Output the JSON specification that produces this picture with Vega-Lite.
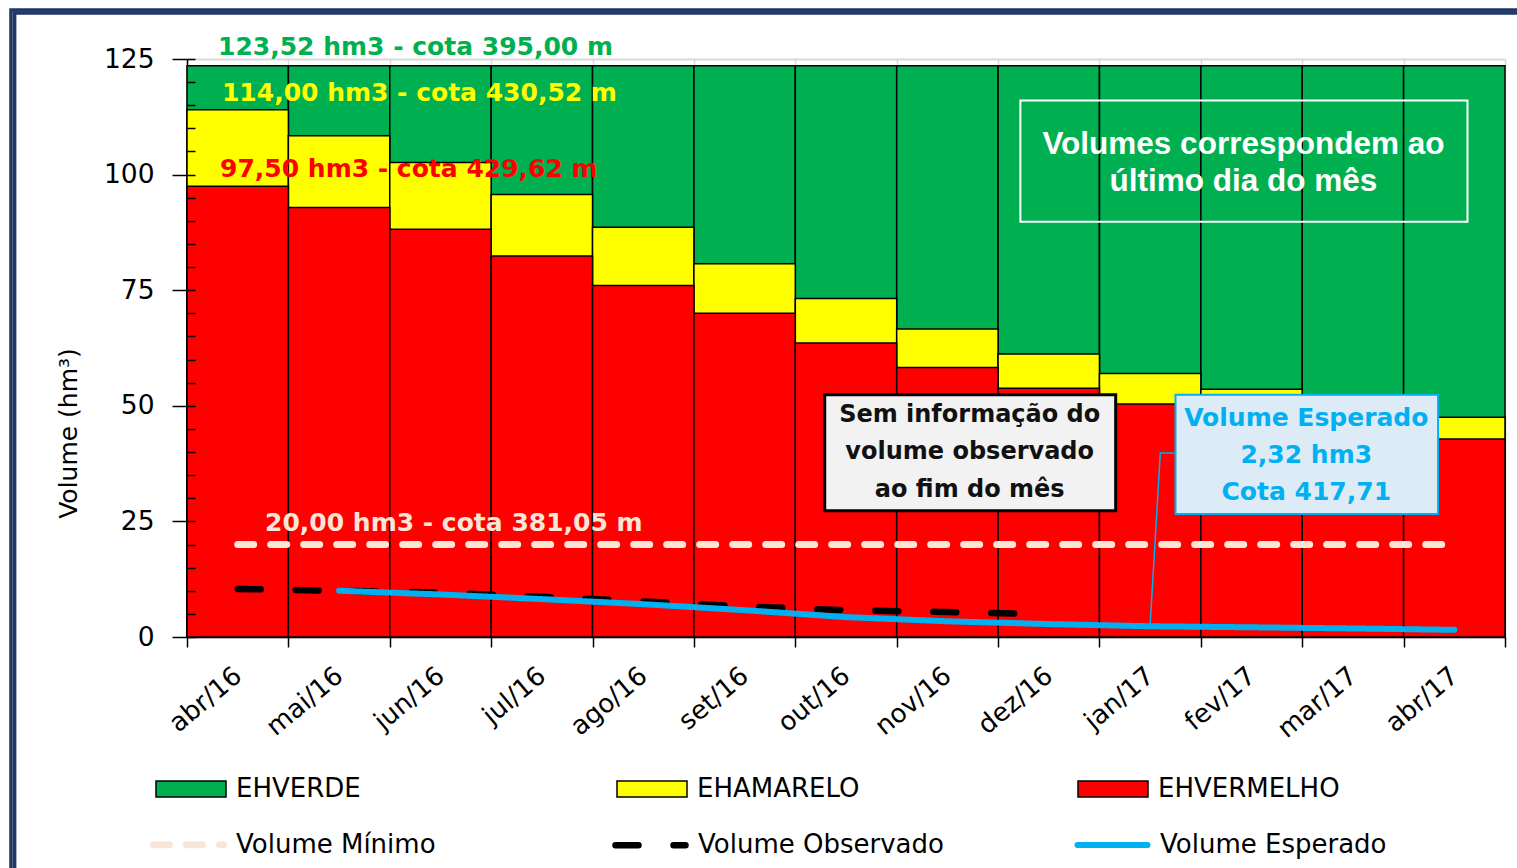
{
  "$schema": "https://vega.github.io/schema/vega-lite/v6.json",
  "width": 1318,
  "height": 578,
  "autosize": {"type": "none"},
  "padding": {"left": 187, "top": 59, "right": 12, "bottom": 231},
  "background": "white",
  "config": {
    "view": {"stroke": null},
    "font": "DejaVu Sans",
    "legend": {"padding": 0, "labelFont": "DejaVu Sans", "labelFontSize": 26, "labelColor": "black", "labelLimit": 500}
  },
  "datasets": {
    "niveis": [
      {"mes": "abr/16", "nivel": "EHVERDE", "volume": 123.52},
      {"mes": "mai/16", "nivel": "EHVERDE", "volume": 123.52},
      {"mes": "jun/16", "nivel": "EHVERDE", "volume": 123.52},
      {"mes": "jul/16", "nivel": "EHVERDE", "volume": 123.52},
      {"mes": "ago/16", "nivel": "EHVERDE", "volume": 123.52},
      {"mes": "set/16", "nivel": "EHVERDE", "volume": 123.52},
      {"mes": "out/16", "nivel": "EHVERDE", "volume": 123.52},
      {"mes": "nov/16", "nivel": "EHVERDE", "volume": 123.52},
      {"mes": "dez/16", "nivel": "EHVERDE", "volume": 123.52},
      {"mes": "jan/17", "nivel": "EHVERDE", "volume": 123.52},
      {"mes": "fev/17", "nivel": "EHVERDE", "volume": 123.52},
      {"mes": "mar/17", "nivel": "EHVERDE", "volume": 123.52},
      {"mes": "abr/17", "nivel": "EHVERDE", "volume": 123.52},
      {"mes": "abr/16", "nivel": "EHAMARELO", "volume": 114.0},
      {"mes": "mai/16", "nivel": "EHAMARELO", "volume": 108.4},
      {"mes": "jun/16", "nivel": "EHAMARELO", "volume": 102.6},
      {"mes": "jul/16", "nivel": "EHAMARELO", "volume": 95.7},
      {"mes": "ago/16", "nivel": "EHAMARELO", "volume": 88.6},
      {"mes": "set/16", "nivel": "EHAMARELO", "volume": 80.7},
      {"mes": "out/16", "nivel": "EHAMARELO", "volume": 73.2},
      {"mes": "nov/16", "nivel": "EHAMARELO", "volume": 66.6},
      {"mes": "dez/16", "nivel": "EHAMARELO", "volume": 61.2},
      {"mes": "jan/17", "nivel": "EHAMARELO", "volume": 57.0},
      {"mes": "fev/17", "nivel": "EHAMARELO", "volume": 53.6},
      {"mes": "mar/17", "nivel": "EHAMARELO", "volume": 50.4},
      {"mes": "abr/17", "nivel": "EHAMARELO", "volume": 47.5},
      {"mes": "abr/16", "nivel": "EHVERMELHO", "volume": 97.5},
      {"mes": "mai/16", "nivel": "EHVERMELHO", "volume": 92.9},
      {"mes": "jun/16", "nivel": "EHVERMELHO", "volume": 88.2},
      {"mes": "jul/16", "nivel": "EHVERMELHO", "volume": 82.4},
      {"mes": "ago/16", "nivel": "EHVERMELHO", "volume": 76.0},
      {"mes": "set/16", "nivel": "EHVERMELHO", "volume": 70.0},
      {"mes": "out/16", "nivel": "EHVERMELHO", "volume": 63.6},
      {"mes": "nov/16", "nivel": "EHVERMELHO", "volume": 58.3},
      {"mes": "dez/16", "nivel": "EHVERMELHO", "volume": 53.8},
      {"mes": "jan/17", "nivel": "EHVERMELHO", "volume": 50.4},
      {"mes": "fev/17", "nivel": "EHVERMELHO", "volume": 47.6},
      {"mes": "mar/17", "nivel": "EHVERMELHO", "volume": 45.1},
      {"mes": "abr/17", "nivel": "EHVERMELHO", "volume": 42.8}
    ],
    "minimo": [
      {"mes": "abr/16", "serie": "Volume Mínimo", "volume": 20},
      {"mes": "mai/16", "serie": "Volume Mínimo", "volume": 20},
      {"mes": "jun/16", "serie": "Volume Mínimo", "volume": 20},
      {"mes": "jul/16", "serie": "Volume Mínimo", "volume": 20},
      {"mes": "ago/16", "serie": "Volume Mínimo", "volume": 20},
      {"mes": "set/16", "serie": "Volume Mínimo", "volume": 20},
      {"mes": "out/16", "serie": "Volume Mínimo", "volume": 20},
      {"mes": "nov/16", "serie": "Volume Mínimo", "volume": 20},
      {"mes": "dez/16", "serie": "Volume Mínimo", "volume": 20},
      {"mes": "jan/17", "serie": "Volume Mínimo", "volume": 20},
      {"mes": "fev/17", "serie": "Volume Mínimo", "volume": 20},
      {"mes": "mar/17", "serie": "Volume Mínimo", "volume": 20},
      {"mes": "abr/17", "serie": "Volume Mínimo", "volume": 20}
    ],
    "observado": [
      {"mes": "abr/16", "serie": "Volume Observado", "volume": 10.4},
      {"mes": "mai/16", "serie": "Volume Observado", "volume": 10.0},
      {"mes": "jun/16", "serie": "Volume Observado", "volume": 9.6},
      {"mes": "jul/16", "serie": "Volume Observado", "volume": 8.7},
      {"mes": "ago/16", "serie": "Volume Observado", "volume": 7.7},
      {"mes": "set/16", "serie": "Volume Observado", "volume": 6.6},
      {"mes": "out/16", "serie": "Volume Observado", "volume": 5.8},
      {"mes": "nov/16", "serie": "Volume Observado", "volume": 5.4},
      {"mes": "dez/16", "serie": "Volume Observado", "volume": 4.9}
    ],
    "esperado": [
      {"mes": "mai/16", "serie": "Volume Esperado", "volume": 10.0},
      {"mes": "jun/16", "serie": "Volume Esperado", "volume": 9.2},
      {"mes": "jul/16", "serie": "Volume Esperado", "volume": 8.2},
      {"mes": "ago/16", "serie": "Volume Esperado", "volume": 7.1},
      {"mes": "set/16", "serie": "Volume Esperado", "volume": 5.8},
      {"mes": "out/16", "serie": "Volume Esperado", "volume": 4.3},
      {"mes": "nov/16", "serie": "Volume Esperado", "volume": 3.4},
      {"mes": "dez/16", "serie": "Volume Esperado", "volume": 2.8},
      {"mes": "jan/17", "serie": "Volume Esperado", "volume": 2.32},
      {"mes": "fev/17", "serie": "Volume Esperado", "volume": 2.1},
      {"mes": "mar/17", "serie": "Volume Esperado", "volume": 1.85},
      {"mes": "abr/17", "serie": "Volume Esperado", "volume": 1.55}
    ]
  },
  "layer": [
    {
      "data": {"name": "niveis"},
      "mark": {"type": "bar", "stroke": "black", "strokeWidth": 1.5},
      "encoding": {
        "x": {
          "field": "mes", "type": "ordinal",
          "scale": {"domain": ["abr/16","mai/16","jun/16","jul/16","ago/16","set/16","out/16","nov/16","dez/16","jan/17","fev/17","mar/17","abr/17"], "paddingInner": 0, "paddingOuter": 0},
          "axis": {
            "title": null, "tickBand": "extent", "labelAngle": -40, "labelAlign": "right", "labelBaseline": "middle",
            "labelFont": "DejaVu Sans", "labelFontSize": 26, "labelColor": "black", "labelPadding": 25,
            "tickSize": 10, "tickColor": "black", "tickWidth": 1.5, "domainColor": "black", "domainWidth": 1.5,
            "grid": true, "gridColor": "#D9D9D9", "gridWidth": 1.5
          }
        },
        "y": {
          "field": "volume", "type": "quantitative", "stack": null,
          "scale": {"domain": [0, 125], "nice": false},
          "axis": {
            "title": "Volume (hm³)", "orient": "left", "values": [0, 25, 50, 75, 100, 125],
            "tickSize": 15, "tickColor": "black", "tickWidth": 1.5, "domainColor": "black", "domainWidth": 1.5,
            "labelFont": "DejaVu Sans", "labelFontSize": 26.5, "labelColor": "black", "labelPadding": 18,
            "grid": true, "gridColor": "#D9D9D9", "gridWidth": 2,
            "titleFont": "DejaVu Sans", "titleFontSize": 25, "titleFontWeight": "normal", "titleColor": "black",
            "titleX": -119, "titleY": 374, "titleAngle": 270, "titleAlign": "center", "titleBaseline": "middle"
          }
        },
        "fill": {
          "field": "nivel", "type": "nominal",
          "scale": {"domain": ["EHVERDE", "EHAMARELO", "EHVERMELHO"], "range": ["#00B050", "#FFFF00", "#FF0000"]},
          "legend": {
            "title": null, "orient": "none", "legendX": -32, "legendY": 694, "direction": "horizontal",
            "columns": 3, "gridAlign": "all", "columnPadding": 196,
            "symbolType": "M-1,-0.23H1V0.23H-1Z", "symbolSize": 4900, "symbolStrokeColor": "black", "symbolStrokeWidth": 1.5,
            "symbolOpacity": 1, "labelOffset": 9
          }
        }
      }
    },
    {
      "data": {"name": "minimo"},
      "mark": {"type": "line", "strokeCap": "round"},
      "encoding": {
        "x": {"field": "mes", "type": "ordinal", "axis": null,
          "scale": {"domain": ["abr/16","mai/16","jun/16","jul/16","ago/16","set/16","out/16","nov/16","dez/16","jan/17","fev/17","mar/17","abr/17"], "paddingInner": 0, "paddingOuter": 0}},
        "y": {"field": "volume", "type": "quantitative", "scale": {"domain": [0, 125], "nice": false}, "axis": null},
        "stroke": {
          "field": "serie", "type": "nominal",
          "scale": {"domain": ["Volume Mínimo", "Volume Observado", "Volume Esperado"], "range": ["#FBE5D6", "#000000", "#00B0F0"]},
          "legend": {
            "title": null, "orient": "none", "legendX": -37, "legendY": 747, "direction": "horizontal",
            "columns": 3, "gridAlign": "all", "columnPadding": 120,
            "symbolType": "stroke", "symbolSize": 4900, "labelOffset": 9,
            "encode": {"symbols": {"update": {"strokeCap": {"value": "round"}}}}
          }
        },
        "strokeDash": {
          "field": "serie", "type": "nominal",
          "scale": {"domain": ["Volume Mínimo", "Volume Observado", "Volume Esperado"], "range": [[16, 17], [23, 35], [1, 0]]},
          "legend": {"title": null}
        },
        "strokeWidth": {
          "field": "serie", "type": "nominal",
          "scale": {"domain": ["Volume Mínimo", "Volume Observado", "Volume Esperado"], "range": [7, 6, 7]},
          "legend": {"title": null}
        }
      }
    },
    {
      "data": {"name": "observado"},
      "mark": {"type": "line", "strokeCap": "round"},
      "encoding": {
        "x": {"field": "mes", "type": "ordinal", "axis": null,
          "scale": {"domain": ["abr/16","mai/16","jun/16","jul/16","ago/16","set/16","out/16","nov/16","dez/16","jan/17","fev/17","mar/17","abr/17"], "paddingInner": 0, "paddingOuter": 0}},
        "y": {"field": "volume", "type": "quantitative", "scale": {"domain": [0, 125], "nice": false}, "axis": null},
        "stroke": {"field": "serie", "type": "nominal", "legend": {"title": null}},
        "strokeDash": {"field": "serie", "type": "nominal", "legend": {"title": null}},
        "strokeWidth": {"field": "serie", "type": "nominal", "legend": {"title": null}}
      }
    },
    {
      "data": {"name": "esperado"},
      "mark": {"type": "line", "strokeCap": "round"},
      "encoding": {
        "x": {"field": "mes", "type": "ordinal", "axis": null,
          "scale": {"domain": ["abr/16","mai/16","jun/16","jul/16","ago/16","set/16","out/16","nov/16","dez/16","jan/17","fev/17","mar/17","abr/17"], "paddingInner": 0, "paddingOuter": 0}},
        "y": {"field": "volume", "type": "quantitative", "scale": {"domain": [0, 125], "nice": false}, "axis": null},
        "stroke": {"field": "serie", "type": "nominal", "legend": {"title": null}},
        "strokeDash": {"field": "serie", "type": "nominal", "legend": {"title": null}},
        "strokeWidth": {"field": "serie", "type": "nominal", "legend": {"title": null}}
      }
    },
    {
      "data": {"values": [
        {"x": -1.70, "x2": 14.0, "y": 134.96, "y2": -80},
        {"x": -1.736, "x2": 14.0, "y": 135.6, "y2": -80}
      ]},
      "mark": {"type": "rect", "fillOpacity": 0, "stroke": "#1F3864", "strokeWidth": 3.5},
      "encoding": {
        "x": {"field": "x", "type": "quantitative", "scale": {"domain": [0, 13], "nice": false, "zero": false}, "axis": null},
        "x2": {"field": "x2"},
        "y": {
          "field": "y", "type": "quantitative", "scale": {"domain": [0, 125], "nice": false},
          "axis": {
            "orient": "left", "values": [0,5,10,15,20,25,30,35,40,45,50,55,60,65,70,75,80,85,90,95,100,105,110,115,120,125],
            "tickSize": -8, "tickColor": "black", "tickWidth": 1.5, "labels": false, "domain": false, "grid": false,
            "title": null, "zindex": 1
          }
        },
        "y2": {"field": "y2"}
      }
    },
    {
      "data": {"values": [
        {"t": "123,52  hm3 - cota 395,00 m", "x": 0.306, "y": 127.7, "ref": "verde"},
        {"t": "114,00 hm3 - cota 430,52 m", "x": 0.345, "y": 117.75, "ref": "amarelo"},
        {"t": "97,50 hm3 - cota 429,62 m", "x": 0.326, "y": 101.3, "ref": "vermelho"},
        {"t": "20,00  hm3 - cota 381,05 m", "x": 0.77, "y": 24.7, "ref": "minimo"}
      ]},
      "mark": {"type": "text", "align": "left", "baseline": "middle", "font": "DejaVu Sans", "fontSize": 25, "fontWeight": "bold"},
      "encoding": {
        "x": {"field": "x", "type": "quantitative", "scale": {"domain": [0, 13], "nice": false, "zero": false}, "axis": null},
        "y": {"field": "y", "type": "quantitative", "scale": {"domain": [0, 125], "nice": false}, "axis": null},
        "text": {"field": "t", "type": "nominal"},
        "color": {
          "field": "ref", "type": "nominal",
          "scale": {"domain": ["verde", "amarelo", "vermelho", "minimo"], "range": ["#00B050", "#FFFF00", "#FF0000", "#FBE5D6"]},
          "legend": null
        }
      }
    },
    {
      "data": {"values": [{"x": 8.22, "x2": 12.63, "y": 116.0, "y2": 89.8}]},
      "mark": {"type": "rect", "fillOpacity": 0, "stroke": "white", "strokeWidth": 2},
      "encoding": {
        "x": {"field": "x", "type": "quantitative", "scale": {"domain": [0, 13], "nice": false, "zero": false}, "axis": null},
        "x2": {"field": "x2"},
        "y": {"field": "y", "type": "quantitative", "scale": {"domain": [0, 125], "nice": false}, "axis": null},
        "y2": {"field": "y2"}
      }
    },
    {
      "data": {"values": [
        {"t": "Volumes correspondem ao", "x": 10.42, "y": 106.5},
        {"t": "último dia do mês", "x": 10.42, "y": 98.5}
      ]},
      "mark": {"type": "text", "align": "center", "baseline": "middle", "font": "Liberation Sans", "fontSize": 31.5, "fontWeight": "bold", "fill": "white"},
      "encoding": {
        "x": {"field": "x", "type": "quantitative", "scale": {"domain": [0, 13], "nice": false, "zero": false}, "axis": null},
        "y": {"field": "y", "type": "quantitative", "scale": {"domain": [0, 125], "nice": false}, "axis": null},
        "text": {"field": "t", "type": "nominal"}
      }
    },
    {
      "data": {"values": [{"x": 6.29, "x2": 9.16, "y": 52.4, "y2": 27.3}]},
      "mark": {"type": "rect", "fill": "#F2F2F2", "stroke": "black", "strokeWidth": 3},
      "encoding": {
        "x": {"field": "x", "type": "quantitative", "scale": {"domain": [0, 13], "nice": false, "zero": false}, "axis": null},
        "x2": {"field": "x2"},
        "y": {"field": "y", "type": "quantitative", "scale": {"domain": [0, 125], "nice": false}, "axis": null},
        "y2": {"field": "y2"}
      }
    },
    {
      "data": {"values": [
        {"t": "Sem informação do", "x": 7.72, "y": 48.05},
        {"t": "volume observado", "x": 7.72, "y": 40.04},
        {"t": "ao fim do mês", "x": 7.72, "y": 31.82}
      ]},
      "mark": {"type": "text", "align": "center", "baseline": "middle", "font": "DejaVu Sans", "fontSize": 24, "fontWeight": "bold", "fill": "#111111"},
      "encoding": {
        "x": {"field": "x", "type": "quantitative", "scale": {"domain": [0, 13], "nice": false, "zero": false}, "axis": null},
        "y": {"field": "y", "type": "quantitative", "scale": {"domain": [0, 125], "nice": false}, "axis": null},
        "text": {"field": "t", "type": "nominal"}
      }
    },
    {
      "data": {"values": [
        {"x": 9.50, "y": 2.6},
        {"x": 9.60, "y": 39.8},
        {"x": 9.75, "y": 39.8}
      ]},
      "mark": {"type": "line", "stroke": "#00B0F0", "strokeWidth": 1.5},
      "encoding": {
        "x": {"field": "x", "type": "quantitative", "scale": {"domain": [0, 13], "nice": false, "zero": false}, "axis": null},
        "y": {"field": "y", "type": "quantitative", "scale": {"domain": [0, 125], "nice": false}, "axis": null}
      }
    },
    {
      "data": {"values": [{"x": 9.75, "x2": 12.34, "y": 52.4, "y2": 26.6}]},
      "mark": {"type": "rect", "fill": "#DDEBF7", "stroke": "#00B0F0", "strokeWidth": 2},
      "encoding": {
        "x": {"field": "x", "type": "quantitative", "scale": {"domain": [0, 13], "nice": false, "zero": false}, "axis": null},
        "x2": {"field": "x2"},
        "y": {"field": "y", "type": "quantitative", "scale": {"domain": [0, 125], "nice": false}, "axis": null},
        "y2": {"field": "y2"}
      }
    },
    {
      "data": {"values": [
        {"t": "Volume Esperado", "x": 11.04, "y": 47.4},
        {"t": "2,32 hm3", "x": 11.04, "y": 39.4},
        {"t": "Cota 417,71", "x": 11.04, "y": 31.4}
      ]},
      "mark": {"type": "text", "align": "center", "baseline": "middle", "font": "DejaVu Sans", "fontSize": 25, "fontWeight": "bold", "fill": "#00B0F0"},
      "encoding": {
        "x": {"field": "x", "type": "quantitative", "scale": {"domain": [0, 13], "nice": false, "zero": false}, "axis": null},
        "y": {"field": "y", "type": "quantitative", "scale": {"domain": [0, 125], "nice": false}, "axis": null},
        "text": {"field": "t", "type": "nominal"}
      }
    }
  ],
  "resolve": {"scale": {"x": "independent"}, "axis": {"x": "independent", "y": "independent"}}
}
